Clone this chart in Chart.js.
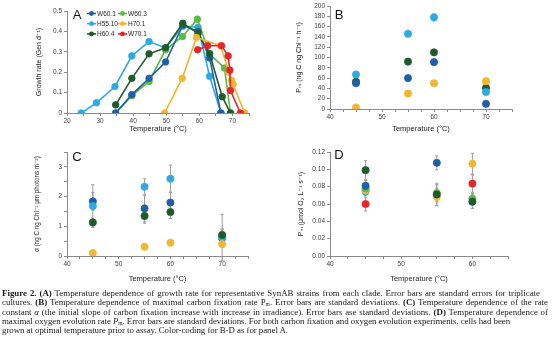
<!DOCTYPE html>
<html><head><meta charset="utf-8">
<script src="https://cdn.jsdelivr.net/npm/chart.js@4.4.0/dist/chart.umd.min.js"></script>
<style>
html,body{margin:0;padding:0;background:#fff;width:554px;height:340px;overflow:hidden;}
canvas{position:absolute;left:0;top:0;pointer-events:none;}
#cap{position:absolute;left:2px;top:289px;font-family:"Liberation Serif","DejaVu Serif",serif;font-size:8.9px;line-height:9.3px;color:#1a1a1a;}
#cap .l{white-space:nowrap;}
#cap sub{font-size:5.5px;line-height:0;vertical-align:-1px;}
</style></head><body>
<canvas id="cA" width="554" height="340"></canvas>
<canvas id="cB" width="554" height="340"></canvas>
<canvas id="cC" width="554" height="340"></canvas>
<canvas id="cD" width="554" height="340"></canvas>
<div id="cap">
<div class="l" data-w="538"><b>Figure 2.</b> <b>(A)</b> Temperature dependence of growth rate for representative SynAB strains from each clade. Error bars are standard errors for triplicate</div>
<div class="l" data-w="546">cultures. <b>(B)</b> Temperature dependence of maximal carbon fixation rate P<sub>m</sub>. Error bars are standard deviations. <b>(C)</b> Temperature dependence of the rate</div>
<div class="l" data-w="546">constant <i>α</i> (the initial slope of carbon fixation increase with increase in irradiance). Error bars ase standard deviations. <b>(D)</b> Temperature dependence of</div>
<div class="l" data-w="508">maximal oxygen evolution rate <i>P</i><sub>m</sub>. Error bars are standard deviations. For both carbon fixation and oxygen evolution experiments, cells had been</div>
<div class="l" data-w="286">grown at optimal temperature prior to assay. Color-coding for B-D as for panel A.</div>
</div>
<script>
// ---------- DATA ----------
const seriesNames = ['W60.1','W60.3','H55.10','H70.1','H60.4','W70.1'];

// Panel A: growth rate (Gen d^-1) vs temperature
const tempA_W60_1 = [34.7,39.6,44.8,49.8,55.0,59.6,63.1,66.5];
const rateA_W60_1 = [0,0.09,0.17,0.25,0.43,0.40,0.27,0];
const tempA_W60_3 = [34.7,39.6,44.8,49.8,54.9,59.4,63.1,67.6,69.4];
const rateA_W60_3 = [0,0.085,0.155,0.31,0.375,0.46,0.29,0.22,0];
const tempA_H55_10 = [24.3,28.9,34.5,39.6,44.8,49.8,55.0,59.6,63.1,66.5];
const rateA_H55_10 = [0,0.05,0.13,0.28,0.35,0.32,0.425,0.42,0.18,0];
const tempA_H70_1 = [49.5,54.8,59.1,66.4,68.9,69.7,70.2,73.7];
const rateA_H70_1 = [0,0.17,0.37,0.33,0.20,0.16,0.14,0];
const tempA_H60_4 = [34.7,39.6,44.8,49.8,55.0,59.6,63.1,66.9,69.4];
const rateA_H60_4 = [0.04,0.17,0.29,0.32,0.44,0.39,0.29,0.08,0];
const tempA_W70_1 = [59.5,62.5,66.7,68.7,69.2,69.4,72.4];
const rateA_W70_1 = [0.31,0.33,0.33,0.28,0.21,0.11,0];

// Panels B-D: assay temperatures
const assayTemps = [45,55,60,70];
const assayTempsD = [45,55,60];

// Panel B: Pm carbon (ng C ng Chl^-1 h^-1)
const pmB_W60_1 = [50,60,91,10];
const pmB_H55_10 = [67,146,178,33];
const pmB_H60_4 = [53,92,110,41];
const pmB_H70_1 = [3,30,50,54];
const errB_H55_10 = [2,3,7,2];

// Panel C: alpha
const alphaC_W60_1 = [1.84,1.60,1.80,0.60];
const alphaC_H55_10 = [1.68,2.33,2.60,0.62];
const alphaC_H60_4 = [1.13,1.35,1.48,0.71];
const alphaC_H70_1 = [0.10,0.31,0.45,0.40];
const errC_W60_1 = [0.30,0.45,0.35,0.30];
const errC_H55_10 = [0.72,0.27,0.46,0.78];
const errC_H60_4 = [0.15,0.25,0.22,0.20];
const errC_H70_1 = [0.08,0.05,0.05,0.05];

// Panel D: Pm oxygen (umol O2 L^-1 s^-1)
const pmD_W60_1 = [0.081,0.1075,null];
const pmD_W60_3 = [0.078,0.0725,0.066];
const pmD_H55_10 = [0.0745,null,null];
const pmD_H70_1 = [0.0758,0.068,0.1065];
const pmD_H60_4 = [0.099,0.071,0.0627];
const pmD_W70_1 = [0.060,null,0.0835];
const errD_W60_1 = [0.006,0.008,null];
const errD_W60_3 = [0.006,0.010,0.006];
const errD_H55_10 = [0.005,null,null];
const errD_H70_1 = [0.005,0.010,0.012];
const errD_H60_4 = [0.011,0.013,0.008];
const errD_W70_1 = [0.008,null,0.010];

// ---------- STYLE ----------
const COL = {'W60.1':'#1f5fa8','W60.3':'#5bb947','H55.10':'#2eaae2','H70.1':'#f3b630','H60.4':'#1e5b2b','W70.1':'#e2262b'};
const SANS = '"Liberation Sans","DejaVu Sans",Arial,sans-serif';
const AXC = '#8a8a8a';

function pts(xs, ys, es){
  const out=[];
  xs.forEach((x,i)=>{ if(ys[i]!=null) out.push({x:x,y:ys[i],e:es?es[i]:null}); });
  return out;
}
function ds(name, data, line){
  return {label:name, data:data, showLine:!!line, borderColor:COL[name], backgroundColor:COL[name],
    pointBackgroundColor:COL[name], pointBorderColor:COL[name], pointBorderWidth:0.8,
    pointRadius: line?3.3:3.6, borderWidth:1.6, tension:0};
}

const errorBars = {
  id:'errorBars',
  beforeDatasetsDraw(chart){
    const ctx=chart.ctx, ys=chart.scales.y;
    chart.data.datasets.forEach((d,i)=>{
      const meta=chart.getDatasetMeta(i);
      d.data.forEach((p,j)=>{
        if(p.e==null) return;
        const pt=meta.data[j];
        const y1=ys.getPixelForValue(p.y+p.e), y2=ys.getPixelForValue(p.y-p.e);
        ctx.save(); ctx.strokeStyle='#9c9c9c'; ctx.lineWidth=1;
        ctx.beginPath();
        ctx.moveTo(pt.x,y1); ctx.lineTo(pt.x,y2);
        ctx.moveTo(pt.x-1.6,y1); ctx.lineTo(pt.x+1.6,y1);
        ctx.moveTo(pt.x-1.6,y2); ctx.lineTo(pt.x+1.6,y2);
        ctx.stroke(); ctx.restore();
      });
    });
  }
};
const panelLabel = {
  id:'panelLabel',
  afterDraw(chart, args, opts){
    const ctx=chart.ctx; ctx.save();
    ctx.font='13px '+SANS; ctx.fillStyle='#111'; ctx.textBaseline='middle'; ctx.textAlign='center';
    ctx.fillText(opts.text, opts.x, opts.y); ctx.restore();
  }
};
const legendA = {
  id:'legendA',
  afterDraw(chart, args, opts){
    if(!opts.items) return;
    const ctx=chart.ctx; ctx.save();
    ctx.font='6.5px '+SANS; ctx.textBaseline='middle'; ctx.textAlign='left';
    opts.items.forEach((name,k)=>{
      const col=k%2, row=Math.floor(k/2);
      const x0 = col===0 ? 87 : 118, y = 13.5 + row*10.2;
      ctx.strokeStyle=COL[name]; ctx.lineWidth=1.6;
      ctx.beginPath(); ctx.moveTo(x0,y); ctx.lineTo(x0+9,y); ctx.stroke();
      ctx.fillStyle=COL[name]; ctx.beginPath(); ctx.arc(x0+4.5,y,2.4,0,Math.PI*2); ctx.fill();
      ctx.fillStyle='#222'; ctx.fillText(name, x0+10, y+0.5);
    });
    ctx.restore();
  }
};

function xAxis(min,max,step,h,title){
  return {type:'linear',min:min,max:max,
    border:{display:true,color:AXC,width:1},
    grid:{display:true,drawOnChartArea:false,drawTicks:true,tickLength:3,color:AXC},
    ticks:{stepSize:step,autoSkip:false,maxRotation:0,padding:1,color:'#404040',font:{family:SANS,size:6.5},
      callback:v=>Math.abs(v%10)<1e-6?String(v):''},
    title:{display:true,text:title,color:'#222',font:{family:SANS,size:7.5},padding:0},
    afterFit:s=>{s.height=h;}};
}
function yAxis(min,max,step,w,title,fmt,tsize){
  return {type:'linear',min:min,max:max,
    border:{display:true,color:AXC,width:1},
    grid:{display:true,drawOnChartArea:false,drawTicks:true,tickLength:3,color:AXC},
    ticks:{stepSize:step,autoSkip:false,padding:2,color:'#404040',font:{family:SANS,size:6.5},callback:fmt},
    title:{display:true,text:title,color:'#222',font:{family:SANS,size:tsize||7},padding:0},
    afterFit:s=>{s.width=w;}};
}
function make(id, datasets, pad, x, y, plugOpts){
  return new Chart(document.getElementById(id), {
    type:'scatter',
    data:{datasets:datasets},
    options:{responsive:false,animation:false,devicePixelRatio:1,events:[],
      layout:{padding:pad},
      scales:{x:x,y:y},
      plugins:Object.assign({legend:{display:false},tooltip:{enabled:false}},plugOpts)},
    plugins:[errorBars,panelLabel,legendA]
  });
}

// Panel A (top-most dataset first)
make('cA', [
  ds('W70.1', pts(tempA_W70_1, rateA_W70_1), true),
  ds('H70.1', pts(tempA_H70_1, rateA_H70_1), true),
  ds('H60.4', pts(tempA_H60_4, rateA_H60_4), true),
  ds('W60.1', pts(tempA_W60_1, rateA_W60_1), true),
  ds('W60.3', pts(tempA_W60_3, rateA_W60_3), true),
  ds('H55.10', pts(tempA_H55_10, rateA_H55_10), true)
], {left:35,top:11,right:305,bottom:207},
  xAxis(20,75,5,20,'Temperature (°C)'),
  yAxis(0,0.5,0.1,32,'Growth rate (Gen d⁻¹)',v=>String(Math.round(v*10)/10)),
  {panelLabel:{text:'A',x:77,y:15},legendA:{items:seriesNames}});

// Panel B
make('cB', [
  ds('H70.1', pts(assayTemps, pmB_H70_1)),
  ds('H55.10', pts(assayTemps, pmB_H55_10, errB_H55_10)),
  ds('W60.1', pts(assayTemps, pmB_W60_1)),
  ds('H60.4', pts(assayTemps, pmB_H60_4))
], {left:295,top:6,right:42,bottom:207},
  xAxis(40,75,2.5,24,'Temperature (°C)'),
  yAxis(0,200,20,35,'Pₘ (ng C ng Chl⁻¹ h⁻¹)',v=>String(v)),
  {panelLabel:{text:'B',x:339,y:15}});

// Panel C
make('cC', [
  ds('H70.1', pts(assayTemps, alphaC_H70_1, errC_H70_1)),
  ds('H60.4', pts(assayTemps, alphaC_H60_4, errC_H60_4)),
  ds('H55.10', pts(assayTemps, alphaC_H55_10, errC_H55_10)),
  ds('W60.1', pts(assayTemps, alphaC_W60_1, errC_W60_1))
], {left:33,top:152,right:306,bottom:57},
  xAxis(40,75,2.5,27,'Temperature (°C)'),
  yAxis(0,3.5,0.5,34,'α (ng C ng Chl⁻¹ μm photons m⁻²)',v=>Math.abs(v%1)<1e-6?String(v):'',6.3),
  {panelLabel:{text:'C',x:77,y:157}});

// Panel D
make('cD', [
  ds('W70.1', pts(assayTempsD, pmD_W70_1, errD_W70_1)),
  ds('H60.4', pts(assayTempsD, pmD_H60_4, errD_H60_4)),
  ds('W60.1', pts(assayTempsD, pmD_W60_1, errD_W60_1)),
  ds('W60.3', pts(assayTempsD, pmD_W60_3, errD_W60_3)),
  ds('H70.1', pts(assayTempsD, pmD_H70_1, errD_H70_1)),
  ds('H55.10', pts(assayTempsD, pmD_H55_10, errD_H55_10))
], {left:297,top:152,right:46,bottom:57},
  xAxis(40,65,2.5,27,'Temperature (°C)'),
  yAxis(0,0.12,0.02,33,'Pₘ (μmol O₂ L⁻¹ s⁻¹)',v=>v.toFixed(2)),
  {panelLabel:{text:'D',x:339,y:155}});

// caption fitting
document.querySelectorAll('#cap .l[data-w]').forEach(el=>{
  const target=+el.dataset.w;
  el.style.display='inline-block';
  const w=el.getBoundingClientRect().width;
  const spaces=(el.textContent.match(/ /g)||[]).length;
  if(w<target){ el.style.wordSpacing=((target-w)/spaces)+'px'; }
  else { const n=el.textContent.length; el.style.letterSpacing=((target-w)/n)+'px'; }
  el.style.display='block';
});
</script>
</body></html>
